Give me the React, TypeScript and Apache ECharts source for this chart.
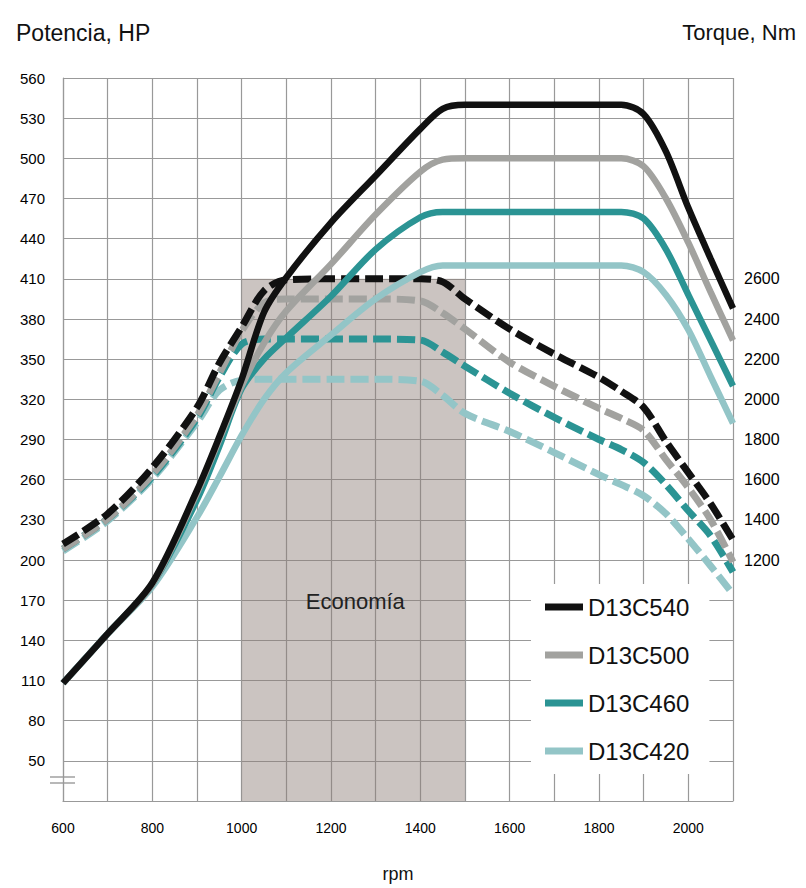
import React, { useEffect, useRef } from "react";
import * as echarts from "echarts";

// ---- data ----
const rpm = [600, 700, 800, 900, 950, 1000, 1050, 1100, 1200, 1300, 1400, 1450, 1500, 1600, 1700, 1800, 1850, 1900, 1950, 2000, 2050, 2100];

const models = ["D13C540", "D13C500", "D13C460", "D13C420"];
const colors = ["#111111", "#a2a29f", "#2b9494", "#93c5c7"];

// Power (HP) – solid lines, left axis
const power540 = [108, 145, 183, 252, 292, 335, 385, 411, 452, 487, 522, 537, 540, 540, 540, 540, 540, 533, 505, 463, 425, 388];
const power500 = [108, 145, 182, 250, 290, 330, 362, 386, 421, 458, 490, 499, 500, 500, 500, 500, 500, 494, 470, 437, 400, 364];
const power460 = [108, 145, 182, 245, 285, 328, 350, 366, 397, 432, 456, 460, 460, 460, 460, 460, 460, 455, 432, 398, 364, 330];
const power420 = [108, 145, 180, 232, 262, 293, 320, 340, 368, 395, 415, 420, 420, 420, 420, 420, 420, 415, 398, 372, 337, 302];

// Torque (Nm) – dashed lines, right axis
const torque540 = [1280, 1430, 1660, 1960, 2180, 2360, 2540, 2595, 2600, 2600, 2600, 2585, 2500, 2350, 2225, 2110, 2040, 1960, 1790, 1635, 1480, 1300];
const torque500 = [1255, 1405, 1625, 1920, 2130, 2340, 2480, 2500, 2500, 2500, 2490, 2430, 2350, 2185, 2065, 1955, 1905, 1845, 1700, 1560, 1400, 1190];
const torque460 = [1255, 1405, 1615, 1905, 2110, 2275, 2300, 2300, 2300, 2300, 2295, 2235, 2165, 2030, 1910, 1800, 1750, 1685, 1575, 1445, 1320, 1140];
const torque420 = [1245, 1395, 1605, 1885, 2045, 2095, 2100, 2100, 2100, 2100, 2090, 2020, 1930, 1840, 1735, 1625, 1575, 1520, 1430, 1305, 1170, 1030];

const powerSeries = [power540, power500, power460, power420];
const torqueSeries = [torque540, torque500, torque460, torque420];

const xLabels = [600, 800, 1000, 1200, 1400, 1600, 1800, 2000];
const torqueLabels = [1200, 1400, 1600, 1800, 2000, 2200, 2400, 2600];
const hpRange = [20, 560, 30];
const nmRange = [0, 3600, 200];
const economyRange = [1000, 1500];
const economyTopHP = 410;
const economyLabel = "Economía";

export default function App() {
  const ref = useRef<HTMLDivElement>(null);

  useEffect(() => {
    if (!ref.current) return;
    const chart = echarts.init(ref.current, null, { renderer: "svg" });
    const font = "Liberation Sans, Arial, sans-serif";
    const grid = "#999999";

    const pairs = (vals: number[]) => rpm.map((r, i) => [r, vals[i]]);

    const series: any[] = [
      {
        type: "line",
        name: "economy",
        data: [],
        silent: true,
        markArea: {
          silent: true,
          itemStyle: { color: "rgba(140,125,118,0.45)" },
          label: {
            show: true,
            position: "inside",
            offset: [2, 62],
            color: "#222",
            fontSize: 22,
            fontFamily: font,
          },
          data: [
            [
              { name: economyLabel, xAxis: economyRange[0], yAxis: hpRange[0] },
              { xAxis: economyRange[1], yAxis: economyTopHP },
            ],
          ],
        },
      },
    ];

    // dashed torque lines first (drawn beneath), reversed so black on top
    for (let i = models.length - 1; i >= 0; i--) {
      series.push({
        type: "line",
        name: models[i],
        yAxisIndex: 1,
        data: pairs(torqueSeries[i]),
        smooth: 0.3,
        symbol: "none",
        showSymbol: false,
        itemStyle: { color: colors[i] },
        lineStyle: { color: colors[i], width: 7, type: [18, 6] },
        z: 2,
      });
    }
    for (let i = models.length - 1; i >= 0; i--) {
      series.push({
        type: "line",
        name: models[i],
        yAxisIndex: 0,
        data: pairs(powerSeries[i]),
        smooth: 0.3,
        symbol: "none",
        showSymbol: false,
        itemStyle: { color: colors[i] },
        lineStyle: { color: colors[i], width: 6.5 },
        z: 3,
      });
    }

    chart.setOption({
      animation: false,
      backgroundColor: "#ffffff",
      title: [
        {
          text: "Potencia, HP",
          left: 11,
          top: 16,
          textStyle: { fontSize: 23, fontWeight: "normal", color: "#111", fontFamily: font },
        },
        {
          text: "Torque, Nm",
          right: 5,
          top: 16,
          textStyle: { fontSize: 22, fontWeight: "normal", color: "#111", fontFamily: font },
        },
      ],
      grid: { left: 63, right: 73, top: 78, bottom: 87, containLabel: false, outerBoundsMode: "none" },
      legend: {
        data: models,
        orient: "vertical",
        left: 531,
        top: 584,
        padding: [11, 20, 11, 14],
        backgroundColor: "#ffffff",
        icon: "rect",
        itemWidth: 38,
        itemHeight: 7,
        itemGap: 24,
        itemStyle: { borderWidth: 0 },
        selectedMode: false,
        textStyle: { fontSize: 24, lineHeight: 24, color: "#111", fontFamily: font },
      },
      xAxis: {
        type: "value",
        min: 600,
        max: 2100,
        interval: 100,
        name: "rpm",
        nameLocation: "middle",
        nameGap: 64,
        nameTextStyle: { fontSize: 18, color: "#111", fontFamily: font },
        axisLine: { show: true, lineStyle: { color: grid, width: 1.2 } },
        axisTick: { show: false },
        axisLabel: {
          margin: 20,
          fontSize: 14,
          color: "#000",
          fontFamily: font,
          formatter: (v: number) => (xLabels.includes(v) ? String(v) : ""),
        },
        splitLine: { show: true, lineStyle: { color: grid, width: 1.2 } },
      },
      yAxis: [
        {
          type: "value",
          min: hpRange[0],
          max: hpRange[1],
          interval: hpRange[2],
          axisLine: { show: true, lineStyle: { color: grid, width: 1.2 } },
          axisTick: { show: false },
          axisLabel: {
            margin: 18,
            fontSize: 15,
            color: "#000",
            fontFamily: font,
            formatter: (v: number) => (v === hpRange[0] ? "" : String(v)),
          },
          splitLine: { show: true, lineStyle: { color: grid, width: 1.2 } },
        },
        {
          type: "value",
          min: nmRange[0],
          max: nmRange[1],
          interval: nmRange[2],
          position: "right",
          axisLine: { show: false },
          axisTick: { show: false },
          axisLabel: {
            margin: 11,
            fontSize: 16,
            color: "#000",
            fontFamily: font,
            formatter: (v: number) => (torqueLabels.includes(v) ? String(v) : ""),
          },
          splitLine: { show: false },
        },
      ],
      graphic: [
        { type: "line", shape: { x1: 50, y1: 777, x2: 75, y2: 777 }, style: { stroke: "#888", lineWidth: 1.2 } },
        { type: "line", shape: { x1: 50, y1: 783, x2: 75, y2: 783 }, style: { stroke: "#888", lineWidth: 1.2 } },
      ],
      series,
    });

    return () => chart.dispose();
  }, []);

  return (
    <div
      ref={ref}
      style={{ position: "fixed", left: 0, top: 0, width: 806, height: 888, background: "#fff" }}
    />
  );
}
